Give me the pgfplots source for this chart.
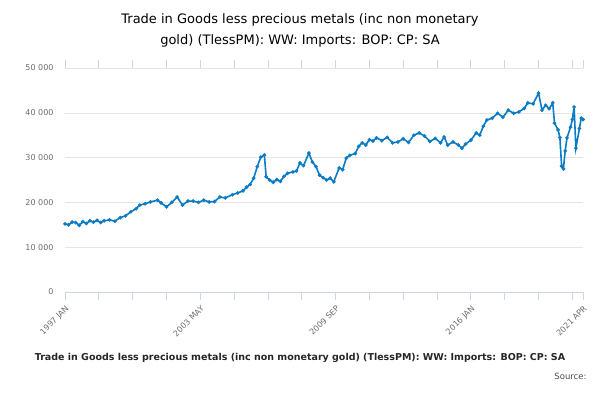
\documentclass[border=0pt]{standalone}
\usepackage{pgfplots}
\pgfplotsset{compat=1.18}
\usepackage{fontspec}
\setmainfont{DejaVu Sans}
\definecolor{ln}{HTML}{0A7BC4}
\definecolor{ax}{HTML}{CCD6EB}
\begin{document}
\begin{tikzpicture}
\useasboundingbox (0pt,0pt) rectangle (600pt,400pt);
\clip (0pt,0pt) rectangle (600pt,400pt);
\begin{axis}[at={(65pt,108pt)},anchor=south west,scale only axis,width=518pt,height=224pt,
 xmin=0,xmax=291,ymin=0,ymax=50000,
 scaled y ticks=false,
 axis line style={draw=none},
 ytick={0,10000,20000,30000,40000,50000},
 yticklabels={0,10 000,20 000,30 000,40 000,50 000},
 yticklabel style={font=\fontsize{8}{9}\selectfont,text=gray!85!black},
 ymajorgrids, grid style={gray!20},
 ytick style={draw=none},
 xtick={0,76,152,228,291},
 xticklabels={1997 JAN,2003 MAY,2009 SEP,2016 JAN,2021 APR},
 extra x ticks={19,38,57,95,114,133,171,190,209,247,266,285},
 extra x tick labels={},
 xticklabel style={rotate=45,anchor=north east,font=\fontsize{8}{9}\selectfont,text=gray!85!black},
 xtick style={draw=ax,thick},
 tick align=outside, major tick length=8pt,
 extra x tick style={tick style={draw=ax,thick}},
 clip=false]
\draw[ax,thick] (axis cs:0,0) -- (axis cs:291,0);
\addplot[ln,line width=1.6pt,mark=*,mark size=0.9pt] coordinates {
(0,15200)(2,15000)(4,15600)(6,15500)(8,14900)(10,15700)(12,15300)(14,15900)(16,15600)(18,16000)(20,15500)(22,15900)(25,16100)(28,15800)(31,16600)(34,17000)(37,17900)(40,18600)(42,19400)(45,19700)(48,20100)(52,20500)(54,19900)(57,19000)(60,20000)(63,21200)(66,19400)(69,20300)(72,20300)(75,20000)(78,20500)(81,20100)(84,20200)(87,21200)(90,21000)(94,21700)(97,22100)(100,22600)(102,23400)(104,24000)(106,25400)(108,28000)(110,30100)(112,30600)(113,25700)(115,25000)(117,24500)(119,25100)(121,24700)(123,25800)(125,26500)(128,26800)(130,27000)(132,28800)(134,28200)(137,31000)(139,29000)(141,28000)(143,26100)(145,25500)(147,25000)(149,25400)(151,24600)(154,27700)(156,27300)(158,29900)(160,30500)(163,30900)(165,32500)(167,33300)(169,32800)(171,34000)(173,33700)(175,34400)(178,33800)(181,34500)(184,33300)(187,33500)(190,34200)(193,33400)(196,35000)(199,35500)(202,34800)(205,33600)(208,34300)(211,33300)(213,34600)(215,32800)(218,33500)(221,32800)(223,32100)(225,33000)(228,33900)(231,35500)(233,35000)(235,37000)(237,38400)(240,38800)(243,39900)(246,39000)(249,40600)(252,39900)(255,40200)(258,41000)(260,42200)(263,42000)(266,44400)(268,40600)(270,41700)(272,40900)(274,42200)(275,37700)(277,36200)(278,34500)(279,28100)(280,27500)(281,31500)(282,34400)(284,36800)(285,38500)(286,41300)(287,32100)(289,36500)(290,38800)(291,38500)};
\end{axis}
\node at (300pt,380pt) {\fontsize{13}{15}\selectfont Trade in Goods less precious metals (inc non monetary};
\node at (300pt,359pt) {\fontsize{13}{15}\selectfont gold) (TlessPM): WW: Imports: BOP: CP: SA};
\node[text=gray!30!black] at (300pt,42pt) {\fontsize{9.5}{11}\selectfont\bfseries Trade in Goods less precious metals (inc non monetary gold) (TlessPM): WW: Imports: BOP: CP: SA};
\node[anchor=east,text=gray!60!black] at (590pt,24pt) {\fontsize{8.5}{10}\selectfont Source:};
\end{tikzpicture}
\end{document}
